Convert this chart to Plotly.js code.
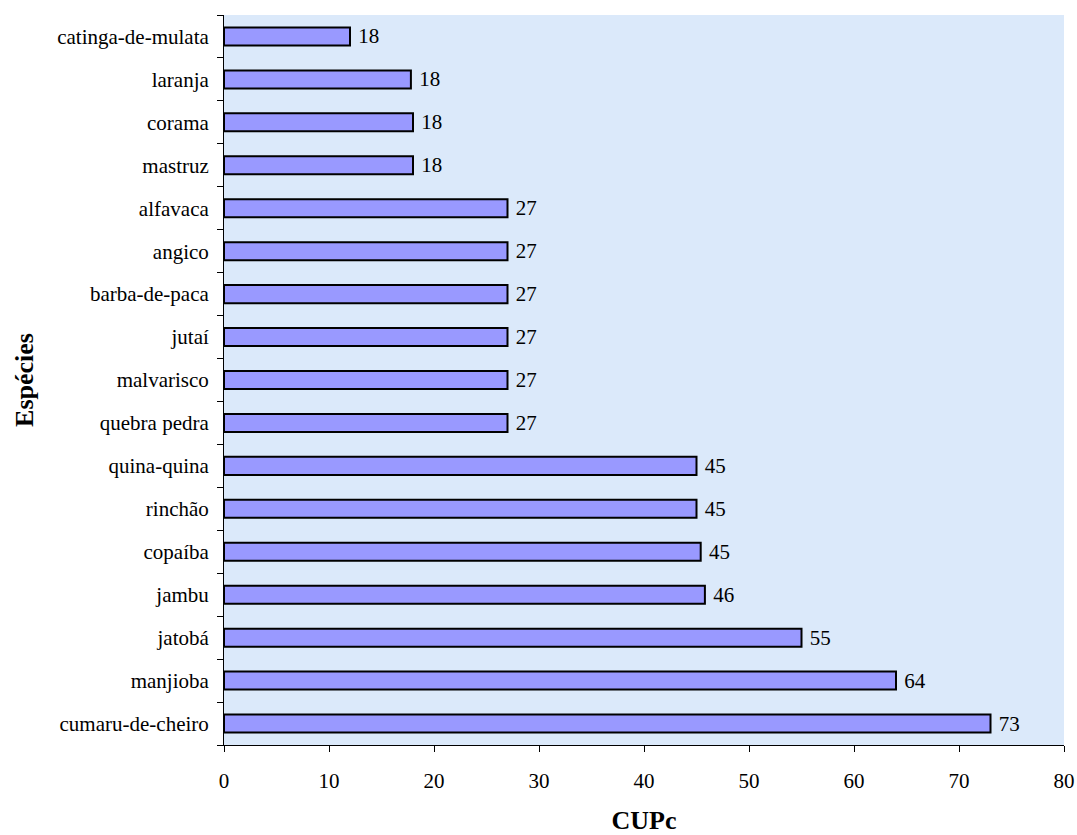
<!DOCTYPE html>
<html><head><meta charset="utf-8">
<script src="https://cdn.plot.ly/plotly-3.0.1.min.js"></script>
<style>body{margin:0;background:#fff}#c{width:1077px;height:835px}</style>
</head><body><div id="c"></div>
<script>
const especies = ["cumaru-de-cheiro","manjioba","jatobá","jambu","copaíba","rinchão","quina-quina","quebra pedra","malvarisco","jutaí","barba-de-paca","angico","alfavaca","mastruz","corama","laranja","catinga-de-mulata"];
const cupc = [73,64,55,45.8,45.4,45,45,27,27,27,27,27,27,18,18,17.8,12];
const rotulos = ["73","64","55","46","45","45","45","27","27","27","27","27","27","18","18","18","18"];
const xTicks = [0,10,20,30,40,50,60,70,80];

const fam = "Liberation Serif, Times New Roman, serif";
const font = {family:fam, size:21, color:"#000"};
const tfont = {family:fam, size:26, color:"#000"};
Plotly.newPlot("c", [{
  type:"bar", orientation:"h", y:especies, x:cupc,
  text:rotulos, texttemplate:" %{text}", textposition:"outside", cliponaxis:false,
  constraintext:"none", textfont:font, width:0.42,
  marker:{color:"#9999ff", line:{color:"#000", width:2}},
  hoverinfo:"x+y"
}], {
  width:1077, height:835,
  margin:{l:224, r:13, t:15, b:90},
  paper_bgcolor:"#fff", plot_bgcolor:"#dbe9fa",
  font:font, showlegend:false,
  xaxis:{range:[0,80], tickvals:xTicks, ticks:"outside", ticklen:6, tickcolor:"#000",
    showline:true, linecolor:"#000", linewidth:1, showgrid:false, zeroline:false,
    tickfont:font, ticklabelstandoff:11,
    title:{text:"<b>CUPc</b>", font:tfont, standoff:20}},
  yaxis:{type:"category", categoryorder:"array", categoryarray:especies, tickson:"boundaries",
    ticks:"outside", ticklen:6, tickcolor:"#000", showline:true, linecolor:"#000", linewidth:1,
    showgrid:false, zeroline:false, tickfont:font, ticklabelstandoff:10,
    title:{text:"<b>Espécies</b>", font:tfont, standoff:16}}
}, {displayModeBar:false, staticPlot:true});
</script></body></html>
